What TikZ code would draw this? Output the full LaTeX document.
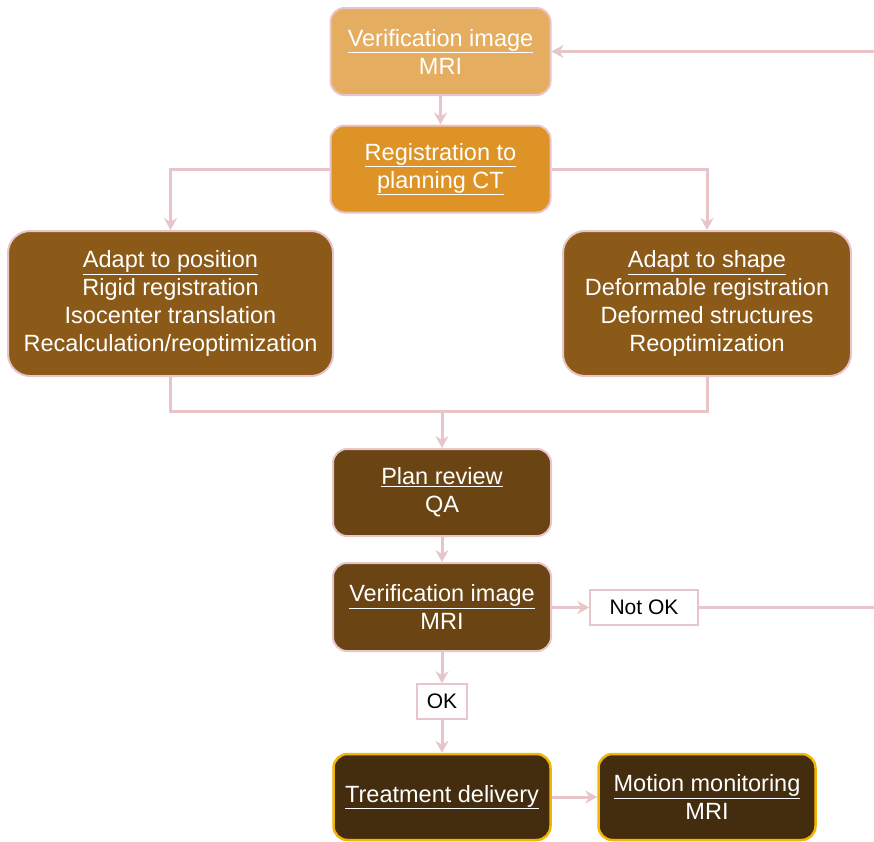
\documentclass[tikz,border=0pt]{standalone}
\usepackage{fontspec}
\setmainfont{Liberation Sans}
\usetikzlibrary{arrows.meta}
\definecolor{fillA}{HTML}{E5AD5F}
\definecolor{fillB}{HTML}{DD9326}
\definecolor{fillC}{HTML}{8B5A19}
\definecolor{fillD}{HTML}{6A4412}
\definecolor{fillE}{HTML}{432D0E}
\definecolor{pinkline}{HTML}{E8C5C9}
\definecolor{goldline}{HTML}{F0B505}
\tikzset{
  basebox/.style={draw=pinkline, line width=2pt, text=white, align=center, inner sep=0pt,
    font=\fontsize{23.5}{28}\selectfont},
  smallbox/.style={basebox, rounded corners=14pt, minimum width=220pt, minimum height=87pt},
  bigbox/.style={basebox, rounded corners=22pt, minimum height=145pt},
  goldbox/.style={smallbox, draw=goldline, line width=2.5pt, fill=fillE, minimum width=217pt, minimum height=86pt},
  labelbox/.style={draw=pinkline, line width=1.5pt, fill=white, text=black, inner sep=0pt,
    minimum height=35pt, font=\fontsize{21}{25}\selectfont},
  conn/.style={draw=pinkline, line width=3pt},
  arr/.style={conn, -{Stealth[length=12pt,width=13pt,inset=4pt]}}
}
\begin{document}
\begin{tikzpicture}[x=1pt,y=-1pt]
\useasboundingbox (0,0) rectangle (874,841);
% nodes
\node[smallbox, fill=fillA] (v1) at (440.5,51.5) {\underline{Verification image}\\MRI};
\node[smallbox, fill=fillB] (reg) at (440.5,169) {\underline{Registration to}\\\underline{planning CT}};
\node[bigbox, fill=fillC, minimum width=325pt] (pos) at (170.5,303.5)
  {\underline{Adapt to position}\\Rigid registration\\Isocenter translation\\Recalculation/reoptimization};
\node[bigbox, fill=fillC, minimum width=288pt] (shp) at (707,303.5)
  {\underline{Adapt to shape}\\Deformable registration\\Deformed structures\\Reoptimization};
\node[smallbox, fill=fillD, minimum width=218pt] (rev) at (442,492.5) {\underline{Plan review}\\QA};
\node[smallbox, fill=fillD, minimum width=218pt, minimum height=88pt] (v2) at (442,607) {\underline{Verification image}\\MRI};
\node[labelbox, minimum width=50pt] (ok) at (442,701.5) {OK};
\node[labelbox, minimum width=108pt] (nok) at (644,607.5) {Not OK};
\node[goldbox] (tr) at (442,797) {\underline{Treatment delivery}};
\node[goldbox] (mm) at (707,797) {\underline{Motion monitoring}\\MRI};
% helper coordinates
\coordinate (jl) at (170.5,411);
\coordinate (jr) at (707,411);
\coordinate (jm) at (442,411);
\coordinate (edgeR) at (874,607.5);
\coordinate (edgeT) at (874,51.5);
% connectors
\draw[arr] (v1.south) -- (reg.north);
\draw[arr] (reg.west) -| (pos.north);
\draw[arr] (reg.east) -| (shp.north);
\draw[conn] (pos.south) -- (jl) -- (jr) -- (shp.south);
\draw[arr] (jm) -- (jm |- rev.north);
\draw[arr] (rev.south) -- (v2.north);
\draw[arr] (v2.east |- nok.west) -- (nok.west);
\draw[conn] (nok.east) -- (edgeR);
\draw[arr] (edgeT) -- (v1.east);
\draw[arr] (v2.south) -- (ok.north);
\draw[arr] (ok.south) -- (tr.north);
\draw[arr] (tr.east) -- (mm.west);
\end{tikzpicture}
\end{document}
